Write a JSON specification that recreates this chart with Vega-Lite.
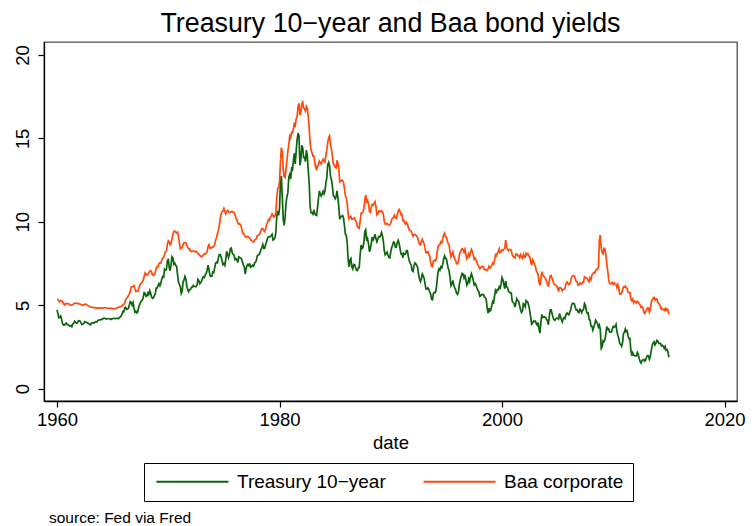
{
  "$schema": "https://vega.github.io/schema/vega-lite/v6.json",
  "background": "white",
  "padding": {"left": 12, "top": 10, "right": 6, "bottom": 2},
  "title": {
    "text": "source: Fed via Fred",
    "orient": "bottom",
    "anchor": "start",
    "frame": "group",
    "font": "Liberation Sans",
    "fontSize": 15.5,
    "fontWeight": "normal",
    "color": "black",
    "dx": 5,
    "offset": 9
  },
  "config": {
    "font": "Liberation Sans",
    "view": {"stroke": "#505050", "strokeWidth": 1.3},
    "axis": {
      "grid": false,
      "domainColor": "black",
      "domainWidth": 1.3,
      "tickColor": "black",
      "tickWidth": 1.2,
      "tickSize": 6,
      "labelColor": "black",
      "labelFont": "Liberation Sans",
      "labelFontSize": 18.5,
      "titleFont": "Liberation Sans",
      "titleFontSize": 18.5,
      "titleFontWeight": "normal",
      "titleColor": "black"
    }
  },
  "vconcat": [
    {
      "width": 693,
      "height": 359,
      "title": {
        "text": "Treasury 10−year and Baa bond yields",
        "anchor": "middle",
        "frame": "group",
        "font": "Liberation Sans",
        "fontSize": 26.8,
        "fontWeight": "normal",
        "color": "black",
        "offset": 4
      },
      "data": {
        "values": [
          {"d":"1960-01","t":4.72,"b":5.34},{"d":"1960-02","t":4.49,"b":5.34},{"d":"1960-03","t":4.25,"b":5.25},{"d":"1960-04","t":4.28,"b":5.20},{"d":"1960-05","t":4.35,"b":5.28},{"d":"1960-06","t":4.15,"b":5.26},{"d":"1960-07","t":3.90,"b":5.22},{"d":"1960-08","t":3.80,"b":5.08},{"d":"1960-09","t":3.80,"b":5.01},{"d":"1960-10","t":3.89,"b":5.11},{"d":"1960-11","t":3.93,"b":5.08},{"d":"1960-12","t":3.84,"b":5.10},
          {"d":"1961-01","t":3.84,"b":5.10},{"d":"1961-02","t":3.78,"b":5.07},{"d":"1961-03","t":3.74,"b":5.02},{"d":"1961-04","t":3.78,"b":5.01},{"d":"1961-05","t":3.71,"b":5.01},{"d":"1961-06","t":3.88,"b":5.03},{"d":"1961-07","t":3.92,"b":5.09},{"d":"1961-08","t":4.04,"b":5.11},{"d":"1961-09","t":3.98,"b":5.12},{"d":"1961-10","t":3.92,"b":5.13},{"d":"1961-11","t":3.94,"b":5.11},{"d":"1961-12","t":4.06,"b":5.10},
          {"d":"1962-01","t":4.08,"b":5.08},{"d":"1962-02","t":4.04,"b":5.07},{"d":"1962-03","t":3.93,"b":5.04},{"d":"1962-04","t":3.84,"b":5.02},{"d":"1962-05","t":3.87,"b":5.00},{"d":"1962-06","t":3.91,"b":5.02},{"d":"1962-07","t":4.01,"b":5.05},{"d":"1962-08","t":3.98,"b":5.06},{"d":"1962-09","t":3.98,"b":5.03},{"d":"1962-10","t":3.93,"b":4.99},{"d":"1962-11","t":3.92,"b":4.96},{"d":"1962-12","t":3.86,"b":4.92},
          {"d":"1963-01","t":3.83,"b":4.91},{"d":"1963-02","t":3.92,"b":4.89},{"d":"1963-03","t":3.93,"b":4.88},{"d":"1963-04","t":3.97,"b":4.87},{"d":"1963-05","t":3.93,"b":4.85},{"d":"1963-06","t":3.99,"b":4.84},{"d":"1963-07","t":4.02,"b":4.84},{"d":"1963-08","t":4.00,"b":4.83},{"d":"1963-09","t":4.08,"b":4.84},{"d":"1963-10","t":4.11,"b":4.83},{"d":"1963-11","t":4.12,"b":4.84},{"d":"1963-12","t":4.13,"b":4.85},
          {"d":"1964-01","t":4.17,"b":4.83},{"d":"1964-02","t":4.15,"b":4.83},{"d":"1964-03","t":4.22,"b":4.83},{"d":"1964-04","t":4.23,"b":4.85},{"d":"1964-05","t":4.20,"b":4.85},{"d":"1964-06","t":4.17,"b":4.85},{"d":"1964-07","t":4.19,"b":4.83},{"d":"1964-08","t":4.19,"b":4.82},{"d":"1964-09","t":4.20,"b":4.82},{"d":"1964-10","t":4.19,"b":4.81},{"d":"1964-11","t":4.15,"b":4.81},{"d":"1964-12","t":4.18,"b":4.81},
          {"d":"1965-01","t":4.19,"b":4.80},{"d":"1965-02","t":4.21,"b":4.78},{"d":"1965-03","t":4.21,"b":4.78},{"d":"1965-04","t":4.20,"b":4.80},{"d":"1965-05","t":4.21,"b":4.81},{"d":"1965-06","t":4.21,"b":4.85},{"d":"1965-07","t":4.20,"b":4.88},{"d":"1965-08","t":4.25,"b":4.88},{"d":"1965-09","t":4.29,"b":4.91},{"d":"1965-10","t":4.35,"b":4.93},{"d":"1965-11","t":4.45,"b":4.95},{"d":"1965-12","t":4.62,"b":5.02},
          {"d":"1966-01","t":4.61,"b":5.06},{"d":"1966-02","t":4.83,"b":5.12},{"d":"1966-03","t":4.87,"b":5.32},{"d":"1966-04","t":4.75,"b":5.41},{"d":"1966-05","t":4.78,"b":5.48},{"d":"1966-06","t":4.81,"b":5.58},{"d":"1966-07","t":5.02,"b":5.68},{"d":"1966-08","t":5.22,"b":5.83},{"d":"1966-09","t":5.18,"b":6.09},{"d":"1966-10","t":5.01,"b":6.10},{"d":"1966-11","t":5.16,"b":6.13},{"d":"1966-12","t":4.84,"b":6.18},
          {"d":"1967-01","t":4.58,"b":5.97},{"d":"1967-02","t":4.63,"b":5.82},{"d":"1967-03","t":4.54,"b":5.85},{"d":"1967-04","t":4.59,"b":5.83},{"d":"1967-05","t":4.85,"b":5.96},{"d":"1967-06","t":5.02,"b":6.15},{"d":"1967-07","t":5.16,"b":6.26},{"d":"1967-08","t":5.28,"b":6.33},{"d":"1967-09","t":5.30,"b":6.40},{"d":"1967-10","t":5.48,"b":6.52},{"d":"1967-11","t":5.75,"b":6.72},{"d":"1967-12","t":5.70,"b":6.93},
          {"d":"1968-01","t":5.53,"b":6.84},{"d":"1968-02","t":5.56,"b":6.80},{"d":"1968-03","t":5.74,"b":6.85},{"d":"1968-04","t":5.64,"b":6.97},{"d":"1968-05","t":5.87,"b":7.03},{"d":"1968-06","t":5.72,"b":7.07},{"d":"1968-07","t":5.50,"b":6.98},{"d":"1968-08","t":5.42,"b":6.82},{"d":"1968-09","t":5.46,"b":6.79},{"d":"1968-10","t":5.58,"b":6.84},{"d":"1968-11","t":5.70,"b":7.01},{"d":"1968-12","t":6.03,"b":7.23},
          {"d":"1969-01","t":6.04,"b":7.32},{"d":"1969-02","t":6.19,"b":7.30},{"d":"1969-03","t":6.30,"b":7.51},{"d":"1969-04","t":6.17,"b":7.54},{"d":"1969-05","t":6.32,"b":7.52},{"d":"1969-06","t":6.57,"b":7.70},{"d":"1969-07","t":6.72,"b":7.84},{"d":"1969-08","t":6.69,"b":7.86},{"d":"1969-09","t":7.16,"b":8.05},{"d":"1969-10","t":7.10,"b":8.22},{"d":"1969-11","t":7.14,"b":8.25},{"d":"1969-12","t":7.65,"b":8.65},
          {"d":"1970-01","t":7.79,"b":8.86},{"d":"1970-02","t":7.24,"b":8.78},{"d":"1970-03","t":7.07,"b":8.63},{"d":"1970-04","t":7.39,"b":8.70},{"d":"1970-05","t":7.91,"b":8.98},{"d":"1970-06","t":7.84,"b":9.25},{"d":"1970-07","t":7.46,"b":9.40},{"d":"1970-08","t":7.53,"b":9.44},{"d":"1970-09","t":7.39,"b":9.39},{"d":"1970-10","t":7.33,"b":9.33},{"d":"1970-11","t":6.84,"b":9.38},{"d":"1970-12","t":6.39,"b":9.12},
          {"d":"1971-01","t":6.24,"b":8.74},{"d":"1971-02","t":6.11,"b":8.39},{"d":"1971-03","t":5.70,"b":8.46},{"d":"1971-04","t":5.83,"b":8.45},{"d":"1971-05","t":6.39,"b":8.62},{"d":"1971-06","t":6.52,"b":8.75},{"d":"1971-07","t":6.73,"b":8.76},{"d":"1971-08","t":6.58,"b":8.76},{"d":"1971-09","t":6.14,"b":8.59},{"d":"1971-10","t":5.93,"b":8.48},{"d":"1971-11","t":5.81,"b":8.38},{"d":"1971-12","t":5.93,"b":8.38},
          {"d":"1972-01","t":5.95,"b":8.23},{"d":"1972-02","t":6.08,"b":8.23},{"d":"1972-03","t":6.07,"b":8.24},{"d":"1972-04","t":6.19,"b":8.24},{"d":"1972-05","t":6.13,"b":8.23},{"d":"1972-06","t":6.11,"b":8.20},{"d":"1972-07","t":6.11,"b":8.23},{"d":"1972-08","t":6.21,"b":8.19},{"d":"1972-09","t":6.55,"b":8.09},{"d":"1972-10","t":6.48,"b":8.06},{"d":"1972-11","t":6.28,"b":7.99},{"d":"1972-12","t":6.36,"b":7.93},
          {"d":"1973-01","t":6.46,"b":7.90},{"d":"1973-02","t":6.64,"b":7.97},{"d":"1973-03","t":6.71,"b":8.03},{"d":"1973-04","t":6.67,"b":8.09},{"d":"1973-05","t":6.85,"b":8.06},{"d":"1973-06","t":6.90,"b":8.13},{"d":"1973-07","t":7.13,"b":8.24},{"d":"1973-08","t":7.40,"b":8.53},{"d":"1973-09","t":7.09,"b":8.63},{"d":"1973-10","t":6.79,"b":8.41},{"d":"1973-11","t":6.73,"b":8.42},{"d":"1973-12","t":6.74,"b":8.48},
          {"d":"1974-01","t":6.99,"b":8.48},{"d":"1974-02","t":6.96,"b":8.53},{"d":"1974-03","t":7.21,"b":8.62},{"d":"1974-04","t":7.51,"b":8.87},{"d":"1974-05","t":7.58,"b":9.05},{"d":"1974-06","t":7.54,"b":9.27},{"d":"1974-07","t":7.81,"b":9.48},{"d":"1974-08","t":8.04,"b":9.77},{"d":"1974-09","t":8.04,"b":10.18},{"d":"1974-10","t":7.90,"b":10.48},{"d":"1974-11","t":7.68,"b":10.60},{"d":"1974-12","t":7.43,"b":10.63},
          {"d":"1975-01","t":7.50,"b":10.81},{"d":"1975-02","t":7.39,"b":10.65},{"d":"1975-03","t":7.73,"b":10.48},{"d":"1975-04","t":8.23,"b":10.58},{"d":"1975-05","t":8.06,"b":10.69},{"d":"1975-06","t":7.86,"b":10.62},{"d":"1975-07","t":8.06,"b":10.55},{"d":"1975-08","t":8.40,"b":10.59},{"d":"1975-09","t":8.43,"b":10.61},{"d":"1975-10","t":8.14,"b":10.62},{"d":"1975-11","t":8.05,"b":10.56},{"d":"1975-12","t":8.00,"b":10.56},
          {"d":"1976-01","t":7.74,"b":10.41},{"d":"1976-02","t":7.79,"b":10.24},{"d":"1976-03","t":7.73,"b":10.12},{"d":"1976-04","t":7.56,"b":9.94},{"d":"1976-05","t":7.90,"b":9.86},{"d":"1976-06","t":7.86,"b":9.89},{"d":"1976-07","t":7.83,"b":9.82},{"d":"1976-08","t":7.77,"b":9.64},{"d":"1976-09","t":7.59,"b":9.40},{"d":"1976-10","t":7.41,"b":9.29},{"d":"1976-11","t":7.29,"b":9.23},{"d":"1976-12","t":6.87,"b":9.12},
          {"d":"1977-01","t":7.21,"b":9.08},{"d":"1977-02","t":7.39,"b":9.12},{"d":"1977-03","t":7.46,"b":9.12},{"d":"1977-04","t":7.37,"b":9.07},{"d":"1977-05","t":7.46,"b":9.01},{"d":"1977-06","t":7.28,"b":8.91},{"d":"1977-07","t":7.33,"b":8.87},{"d":"1977-08","t":7.40,"b":8.82},{"d":"1977-09","t":7.34,"b":8.80},{"d":"1977-10","t":7.52,"b":8.89},{"d":"1977-11","t":7.58,"b":8.95},{"d":"1977-12","t":7.69,"b":8.99},
          {"d":"1978-01","t":7.96,"b":9.17},{"d":"1978-02","t":8.03,"b":9.20},{"d":"1978-03","t":8.04,"b":9.22},{"d":"1978-04","t":8.15,"b":9.32},{"d":"1978-05","t":8.35,"b":9.49},{"d":"1978-06","t":8.46,"b":9.60},{"d":"1978-07","t":8.64,"b":9.60},{"d":"1978-08","t":8.41,"b":9.48},{"d":"1978-09","t":8.42,"b":9.42},{"d":"1978-10","t":8.64,"b":9.59},{"d":"1978-11","t":8.81,"b":9.83},{"d":"1978-12","t":9.01,"b":9.94},
          {"d":"1979-01","t":9.10,"b":10.13},{"d":"1979-02","t":9.10,"b":10.08},{"d":"1979-03","t":9.12,"b":10.26},{"d":"1979-04","t":9.18,"b":10.33},{"d":"1979-05","t":9.25,"b":10.47},{"d":"1979-06","t":8.91,"b":10.38},{"d":"1979-07","t":8.95,"b":10.29},{"d":"1979-08","t":9.03,"b":10.35},{"d":"1979-09","t":9.33,"b":10.54},{"d":"1979-10","t":10.30,"b":11.40},{"d":"1979-11","t":10.65,"b":11.99},{"d":"1979-12","t":10.39,"b":12.06},
          {"d":"1980-01","t":10.80,"b":12.42},{"d":"1980-02","t":12.41,"b":13.57},{"d":"1980-03","t":12.75,"b":14.45},{"d":"1980-04","t":11.47,"b":14.19},{"d":"1980-05","t":10.18,"b":13.17},{"d":"1980-06","t":9.78,"b":12.71},{"d":"1980-07","t":10.25,"b":12.65},{"d":"1980-08","t":11.10,"b":13.15},{"d":"1980-09","t":11.51,"b":13.70},{"d":"1980-10","t":11.75,"b":14.23},{"d":"1980-11","t":12.68,"b":14.64},{"d":"1980-12","t":12.84,"b":15.14},
          {"d":"1981-01","t":12.57,"b":15.03},{"d":"1981-02","t":13.19,"b":15.37},{"d":"1981-03","t":13.12,"b":15.34},{"d":"1981-04","t":13.68,"b":15.56},{"d":"1981-05","t":14.10,"b":15.95},{"d":"1981-06","t":13.47,"b":15.80},{"d":"1981-07","t":14.28,"b":16.17},{"d":"1981-08","t":14.94,"b":16.34},{"d":"1981-09","t":15.32,"b":16.92},{"d":"1981-10","t":15.15,"b":17.11},{"d":"1981-11","t":13.39,"b":16.39},{"d":"1981-12","t":13.72,"b":16.55},
          {"d":"1982-01","t":14.59,"b":17.10},{"d":"1982-02","t":14.43,"b":17.18},{"d":"1982-03","t":13.86,"b":16.82},{"d":"1982-04","t":13.87,"b":16.78},{"d":"1982-05","t":13.62,"b":16.64},{"d":"1982-06","t":14.30,"b":16.92},{"d":"1982-07","t":13.95,"b":16.80},{"d":"1982-08","t":13.06,"b":16.32},{"d":"1982-09","t":12.34,"b":15.63},{"d":"1982-10","t":10.91,"b":14.73},{"d":"1982-11","t":10.55,"b":14.30},{"d":"1982-12","t":10.54,"b":14.14},
          {"d":"1983-01","t":10.46,"b":13.94},{"d":"1983-02","t":10.72,"b":13.95},{"d":"1983-03","t":10.51,"b":13.61},{"d":"1983-04","t":10.40,"b":13.29},{"d":"1983-05","t":10.38,"b":13.09},{"d":"1983-06","t":10.85,"b":13.37},{"d":"1983-07","t":11.38,"b":13.39},{"d":"1983-08","t":11.85,"b":13.64},{"d":"1983-09","t":11.65,"b":13.55},{"d":"1983-10","t":11.54,"b":13.46},{"d":"1983-11","t":11.69,"b":13.61},{"d":"1983-12","t":11.83,"b":13.75},
          {"d":"1984-01","t":11.67,"b":13.65},{"d":"1984-02","t":11.84,"b":13.59},{"d":"1984-03","t":12.32,"b":13.99},{"d":"1984-04","t":12.63,"b":14.31},{"d":"1984-05","t":13.41,"b":14.74},{"d":"1984-06","t":13.56,"b":15.05},{"d":"1984-07","t":13.36,"b":15.15},{"d":"1984-08","t":12.72,"b":14.63},{"d":"1984-09","t":12.52,"b":14.35},{"d":"1984-10","t":12.16,"b":13.94},{"d":"1984-11","t":11.57,"b":13.48},{"d":"1984-12","t":11.50,"b":13.40},
          {"d":"1985-01","t":11.38,"b":13.26},{"d":"1985-02","t":11.51,"b":13.23},{"d":"1985-03","t":11.86,"b":13.69},{"d":"1985-04","t":11.43,"b":13.51},{"d":"1985-05","t":10.85,"b":13.15},{"d":"1985-06","t":10.16,"b":12.40},{"d":"1985-07","t":10.31,"b":12.43},{"d":"1985-08","t":10.33,"b":12.50},{"d":"1985-09","t":10.37,"b":12.48},{"d":"1985-10","t":10.24,"b":12.36},{"d":"1985-11","t":9.78,"b":11.99},{"d":"1985-12","t":9.26,"b":11.58},
          {"d":"1986-01","t":9.19,"b":11.44},{"d":"1986-02","t":8.70,"b":11.11},{"d":"1986-03","t":7.78,"b":10.50},{"d":"1986-04","t":7.30,"b":10.19},{"d":"1986-05","t":7.71,"b":10.29},{"d":"1986-06","t":7.80,"b":10.34},{"d":"1986-07","t":7.30,"b":10.16},{"d":"1986-08","t":7.17,"b":10.18},{"d":"1986-09","t":7.45,"b":10.20},{"d":"1986-10","t":7.43,"b":10.24},{"d":"1986-11","t":7.25,"b":10.07},{"d":"1986-12","t":7.11,"b":9.97},
          {"d":"1987-01","t":7.08,"b":9.72},{"d":"1987-02","t":7.25,"b":9.65},{"d":"1987-03","t":7.25,"b":9.61},{"d":"1987-04","t":8.02,"b":10.04},{"d":"1987-05","t":8.61,"b":10.51},{"d":"1987-06","t":8.40,"b":10.52},{"d":"1987-07","t":8.45,"b":10.61},{"d":"1987-08","t":8.76,"b":10.80},{"d":"1987-09","t":9.42,"b":11.31},{"d":"1987-10","t":9.52,"b":11.62},{"d":"1987-11","t":8.86,"b":11.23},{"d":"1987-12","t":8.99,"b":11.29},
          {"d":"1988-01","t":8.67,"b":11.07},{"d":"1988-02","t":8.21,"b":10.62},{"d":"1988-03","t":8.37,"b":10.57},{"d":"1988-04","t":8.72,"b":10.90},{"d":"1988-05","t":9.09,"b":11.04},{"d":"1988-06","t":8.92,"b":11.00},{"d":"1988-07","t":9.06,"b":11.11},{"d":"1988-08","t":9.26,"b":11.21},{"d":"1988-09","t":8.98,"b":10.90},{"d":"1988-10","t":8.80,"b":10.41},{"d":"1988-11","t":8.96,"b":10.48},{"d":"1988-12","t":9.11,"b":10.65},
          {"d":"1989-01","t":9.09,"b":10.65},{"d":"1989-02","t":9.17,"b":10.61},{"d":"1989-03","t":9.36,"b":10.67},{"d":"1989-04","t":9.18,"b":10.61},{"d":"1989-05","t":8.86,"b":10.46},{"d":"1989-06","t":8.28,"b":10.03},{"d":"1989-07","t":8.02,"b":9.87},{"d":"1989-08","t":8.11,"b":9.88},{"d":"1989-09","t":8.19,"b":9.91},{"d":"1989-10","t":8.01,"b":9.81},{"d":"1989-11","t":7.87,"b":9.81},{"d":"1989-12","t":7.84,"b":9.82},
          {"d":"1990-01","t":8.21,"b":9.94},{"d":"1990-02","t":8.47,"b":10.14},{"d":"1990-03","t":8.59,"b":10.21},{"d":"1990-04","t":8.79,"b":10.30},{"d":"1990-05","t":8.76,"b":10.41},{"d":"1990-06","t":8.48,"b":10.22},{"d":"1990-07","t":8.47,"b":10.20},{"d":"1990-08","t":8.75,"b":10.41},{"d":"1990-09","t":8.89,"b":10.64},{"d":"1990-10","t":8.72,"b":10.74},{"d":"1990-11","t":8.39,"b":10.62},{"d":"1990-12","t":8.08,"b":10.43},
          {"d":"1991-01","t":8.09,"b":10.45},{"d":"1991-02","t":7.85,"b":10.07},{"d":"1991-03","t":8.11,"b":10.09},{"d":"1991-04","t":8.04,"b":9.94},{"d":"1991-05","t":8.07,"b":9.86},{"d":"1991-06","t":8.28,"b":9.96},{"d":"1991-07","t":8.27,"b":9.89},{"d":"1991-08","t":7.90,"b":9.65},{"d":"1991-09","t":7.65,"b":9.51},{"d":"1991-10","t":7.53,"b":9.49},{"d":"1991-11","t":7.42,"b":9.45},{"d":"1991-12","t":7.09,"b":9.26},
          {"d":"1992-01","t":7.03,"b":9.13},{"d":"1992-02","t":7.34,"b":9.23},{"d":"1992-03","t":7.54,"b":9.25},{"d":"1992-04","t":7.48,"b":9.21},{"d":"1992-05","t":7.39,"b":9.13},{"d":"1992-06","t":7.26,"b":9.05},{"d":"1992-07","t":6.84,"b":8.84},{"d":"1992-08","t":6.59,"b":8.65},{"d":"1992-09","t":6.42,"b":8.62},{"d":"1992-10","t":6.59,"b":8.84},{"d":"1992-11","t":6.87,"b":8.96},{"d":"1992-12","t":6.77,"b":8.81},
          {"d":"1993-01","t":6.60,"b":8.67},{"d":"1993-02","t":6.26,"b":8.39},{"d":"1993-03","t":5.98,"b":8.15},{"d":"1993-04","t":5.97,"b":8.14},{"d":"1993-05","t":6.04,"b":8.21},{"d":"1993-06","t":5.96,"b":8.07},{"d":"1993-07","t":5.81,"b":7.93},{"d":"1993-08","t":5.68,"b":7.60},{"d":"1993-09","t":5.36,"b":7.34},{"d":"1993-10","t":5.33,"b":7.31},{"d":"1993-11","t":5.72,"b":7.66},{"d":"1993-12","t":5.77,"b":7.69},
          {"d":"1994-01","t":5.75,"b":7.65},{"d":"1994-02","t":5.97,"b":7.76},{"d":"1994-03","t":6.48,"b":8.13},{"d":"1994-04","t":6.97,"b":8.52},{"d":"1994-05","t":7.18,"b":8.62},{"d":"1994-06","t":7.10,"b":8.65},{"d":"1994-07","t":7.30,"b":8.80},{"d":"1994-08","t":7.24,"b":8.74},{"d":"1994-09","t":7.46,"b":8.98},{"d":"1994-10","t":7.74,"b":9.20},{"d":"1994-11","t":7.96,"b":9.32},{"d":"1994-12","t":7.81,"b":9.10},
          {"d":"1995-01","t":7.78,"b":9.08},{"d":"1995-02","t":7.47,"b":8.85},{"d":"1995-03","t":7.20,"b":8.70},{"d":"1995-04","t":7.06,"b":8.60},{"d":"1995-05","t":6.63,"b":8.20},{"d":"1995-06","t":6.17,"b":7.90},{"d":"1995-07","t":6.28,"b":8.04},{"d":"1995-08","t":6.49,"b":8.19},{"d":"1995-09","t":6.20,"b":7.93},{"d":"1995-10","t":6.04,"b":7.75},{"d":"1995-11","t":5.93,"b":7.68},{"d":"1995-12","t":5.71,"b":7.49},
          {"d":"1996-01","t":5.65,"b":7.47},{"d":"1996-02","t":5.81,"b":7.63},{"d":"1996-03","t":6.27,"b":8.03},{"d":"1996-04","t":6.51,"b":8.19},{"d":"1996-05","t":6.74,"b":8.30},{"d":"1996-06","t":6.91,"b":8.40},{"d":"1996-07","t":6.87,"b":8.35},{"d":"1996-08","t":6.64,"b":8.18},{"d":"1996-09","t":6.83,"b":8.35},{"d":"1996-10","t":6.53,"b":8.07},{"d":"1996-11","t":6.20,"b":7.79},{"d":"1996-12","t":6.30,"b":7.89},
          {"d":"1997-01","t":6.58,"b":8.09},{"d":"1997-02","t":6.42,"b":7.94},{"d":"1997-03","t":6.69,"b":8.18},{"d":"1997-04","t":6.89,"b":8.34},{"d":"1997-05","t":6.71,"b":8.20},{"d":"1997-06","t":6.49,"b":8.02},{"d":"1997-07","t":6.22,"b":7.75},{"d":"1997-08","t":6.30,"b":7.82},{"d":"1997-09","t":6.21,"b":7.70},{"d":"1997-10","t":6.03,"b":7.57},{"d":"1997-11","t":5.88,"b":7.42},{"d":"1997-12","t":5.81,"b":7.32},
          {"d":"1998-01","t":5.54,"b":7.19},{"d":"1998-02","t":5.57,"b":7.25},{"d":"1998-03","t":5.65,"b":7.32},{"d":"1998-04","t":5.64,"b":7.33},{"d":"1998-05","t":5.65,"b":7.30},{"d":"1998-06","t":5.50,"b":7.13},{"d":"1998-07","t":5.46,"b":7.15},{"d":"1998-08","t":5.34,"b":7.14},{"d":"1998-09","t":4.81,"b":7.09},{"d":"1998-10","t":4.53,"b":7.18},{"d":"1998-11","t":4.83,"b":7.34},{"d":"1998-12","t":4.65,"b":7.23},
          {"d":"1999-01","t":4.72,"b":7.29},{"d":"1999-02","t":5.00,"b":7.39},{"d":"1999-03","t":5.23,"b":7.53},{"d":"1999-04","t":5.18,"b":7.48},{"d":"1999-05","t":5.54,"b":7.72},{"d":"1999-06","t":5.90,"b":8.02},{"d":"1999-07","t":5.79,"b":7.95},{"d":"1999-08","t":5.94,"b":8.15},{"d":"1999-09","t":5.92,"b":8.20},{"d":"1999-10","t":6.11,"b":8.38},{"d":"1999-11","t":6.03,"b":8.15},{"d":"1999-12","t":6.28,"b":8.19},
          {"d":"2000-01","t":6.66,"b":8.33},{"d":"2000-02","t":6.52,"b":8.29},{"d":"2000-03","t":6.26,"b":8.37},{"d":"2000-04","t":5.99,"b":8.40},{"d":"2000-05","t":6.44,"b":8.90},{"d":"2000-06","t":6.10,"b":8.48},{"d":"2000-07","t":6.05,"b":8.35},{"d":"2000-08","t":5.83,"b":8.26},{"d":"2000-09","t":5.80,"b":8.35},{"d":"2000-10","t":5.74,"b":8.34},{"d":"2000-11","t":5.72,"b":8.28},{"d":"2000-12","t":5.24,"b":8.02},
          {"d":"2001-01","t":5.16,"b":7.93},{"d":"2001-02","t":5.10,"b":7.87},{"d":"2001-03","t":4.89,"b":7.84},{"d":"2001-04","t":5.14,"b":8.07},{"d":"2001-05","t":5.39,"b":8.07},{"d":"2001-06","t":5.28,"b":7.97},{"d":"2001-07","t":5.24,"b":7.97},{"d":"2001-08","t":4.97,"b":7.85},{"d":"2001-09","t":4.73,"b":8.03},{"d":"2001-10","t":4.57,"b":7.91},{"d":"2001-11","t":4.65,"b":7.81},{"d":"2001-12","t":5.09,"b":8.05},
          {"d":"2002-01","t":5.04,"b":7.87},{"d":"2002-02","t":4.91,"b":7.89},{"d":"2002-03","t":5.28,"b":8.11},{"d":"2002-04","t":5.21,"b":8.03},{"d":"2002-05","t":5.16,"b":8.09},{"d":"2002-06","t":4.93,"b":7.95},{"d":"2002-07","t":4.65,"b":7.90},{"d":"2002-08","t":4.26,"b":7.58},{"d":"2002-09","t":3.87,"b":7.40},{"d":"2002-10","t":3.94,"b":7.73},{"d":"2002-11","t":4.05,"b":7.62},{"d":"2002-12","t":4.03,"b":7.45},
          {"d":"2003-01","t":4.05,"b":7.35},{"d":"2003-02","t":3.90,"b":7.06},{"d":"2003-03","t":3.81,"b":6.95},{"d":"2003-04","t":3.96,"b":6.85},{"d":"2003-05","t":3.57,"b":6.38},{"d":"2003-06","t":3.33,"b":6.19},{"d":"2003-07","t":3.98,"b":6.62},{"d":"2003-08","t":4.45,"b":7.01},{"d":"2003-09","t":4.27,"b":6.79},{"d":"2003-10","t":4.29,"b":6.73},{"d":"2003-11","t":4.30,"b":6.66},{"d":"2003-12","t":4.27,"b":6.60},
          {"d":"2004-01","t":4.15,"b":6.44},{"d":"2004-02","t":4.08,"b":6.27},{"d":"2004-03","t":3.83,"b":6.11},{"d":"2004-04","t":4.35,"b":6.46},{"d":"2004-05","t":4.72,"b":6.75},{"d":"2004-06","t":4.73,"b":6.78},{"d":"2004-07","t":4.50,"b":6.62},{"d":"2004-08","t":4.28,"b":6.46},{"d":"2004-09","t":4.13,"b":6.27},{"d":"2004-10","t":4.10,"b":6.21},{"d":"2004-11","t":4.19,"b":6.20},{"d":"2004-12","t":4.23,"b":6.15},
          {"d":"2005-01","t":4.22,"b":6.02},{"d":"2005-02","t":4.17,"b":5.82},{"d":"2005-03","t":4.50,"b":6.06},{"d":"2005-04","t":4.34,"b":6.05},{"d":"2005-05","t":4.14,"b":6.01},{"d":"2005-06","t":4.00,"b":5.86},{"d":"2005-07","t":4.18,"b":5.95},{"d":"2005-08","t":4.26,"b":5.96},{"d":"2005-09","t":4.20,"b":6.03},{"d":"2005-10","t":4.46,"b":6.30},{"d":"2005-11","t":4.54,"b":6.39},{"d":"2005-12","t":4.47,"b":6.32},
          {"d":"2006-01","t":4.42,"b":6.24},{"d":"2006-02","t":4.57,"b":6.27},{"d":"2006-03","t":4.72,"b":6.41},{"d":"2006-04","t":4.99,"b":6.68},{"d":"2006-05","t":5.11,"b":6.75},{"d":"2006-06","t":5.11,"b":6.78},{"d":"2006-07","t":5.09,"b":6.76},{"d":"2006-08","t":4.88,"b":6.59},{"d":"2006-09","t":4.72,"b":6.43},{"d":"2006-10","t":4.73,"b":6.42},{"d":"2006-11","t":4.60,"b":6.20},{"d":"2006-12","t":4.56,"b":6.22},
          {"d":"2007-01","t":4.76,"b":6.34},{"d":"2007-02","t":4.72,"b":6.28},{"d":"2007-03","t":4.56,"b":6.27},{"d":"2007-04","t":4.69,"b":6.39},{"d":"2007-05","t":4.75,"b":6.39},{"d":"2007-06","t":5.10,"b":6.70},{"d":"2007-07","t":5.00,"b":6.65},{"d":"2007-08","t":4.67,"b":6.65},{"d":"2007-09","t":4.52,"b":6.59},{"d":"2007-10","t":4.53,"b":6.48},{"d":"2007-11","t":4.15,"b":6.40},{"d":"2007-12","t":4.10,"b":6.65},
          {"d":"2008-01","t":3.74,"b":6.54},{"d":"2008-02","t":3.74,"b":6.82},{"d":"2008-03","t":3.51,"b":6.89},{"d":"2008-04","t":3.68,"b":6.97},{"d":"2008-05","t":3.88,"b":6.93},{"d":"2008-06","t":4.10,"b":7.07},{"d":"2008-07","t":4.01,"b":7.16},{"d":"2008-08","t":3.89,"b":7.15},{"d":"2008-09","t":3.69,"b":7.31},{"d":"2008-10","t":3.81,"b":8.88},{"d":"2008-11","t":3.53,"b":9.21},{"d":"2008-12","t":2.42,"b":8.43},
          {"d":"2009-01","t":2.52,"b":8.14},{"d":"2009-02","t":2.87,"b":8.08},{"d":"2009-03","t":2.82,"b":8.42},{"d":"2009-04","t":2.93,"b":8.39},{"d":"2009-05","t":3.29,"b":8.06},{"d":"2009-06","t":3.72,"b":7.50},{"d":"2009-07","t":3.56,"b":7.09},{"d":"2009-08","t":3.59,"b":6.58},{"d":"2009-09","t":3.40,"b":6.31},{"d":"2009-10","t":3.39,"b":6.29},{"d":"2009-11","t":3.40,"b":6.32},{"d":"2009-12","t":3.59,"b":6.37},
          {"d":"2010-01","t":3.73,"b":6.25},{"d":"2010-02","t":3.69,"b":6.34},{"d":"2010-03","t":3.73,"b":6.27},{"d":"2010-04","t":3.85,"b":6.25},{"d":"2010-05","t":3.42,"b":6.05},{"d":"2010-06","t":3.20,"b":6.23},{"d":"2010-07","t":3.01,"b":6.01},{"d":"2010-08","t":2.70,"b":5.66},{"d":"2010-09","t":2.65,"b":5.66},{"d":"2010-10","t":2.54,"b":5.72},{"d":"2010-11","t":2.76,"b":5.92},{"d":"2010-12","t":3.29,"b":6.10},
          {"d":"2011-01","t":3.39,"b":6.09},{"d":"2011-02","t":3.58,"b":6.15},{"d":"2011-03","t":3.41,"b":6.03},{"d":"2011-04","t":3.46,"b":6.02},{"d":"2011-05","t":3.17,"b":5.78},{"d":"2011-06","t":3.00,"b":5.75},{"d":"2011-07","t":3.00,"b":5.76},{"d":"2011-08","t":2.30,"b":5.36},{"d":"2011-09","t":1.98,"b":5.27},{"d":"2011-10","t":2.15,"b":5.37},{"d":"2011-11","t":2.01,"b":5.14},{"d":"2011-12","t":1.98,"b":5.25},
          {"d":"2012-01","t":1.97,"b":5.23},{"d":"2012-02","t":1.97,"b":5.14},{"d":"2012-03","t":2.17,"b":5.23},{"d":"2012-04","t":2.05,"b":5.19},{"d":"2012-05","t":1.80,"b":5.07},{"d":"2012-06","t":1.62,"b":5.02},{"d":"2012-07","t":1.53,"b":4.87},{"d":"2012-08","t":1.68,"b":4.91},{"d":"2012-09","t":1.72,"b":4.84},{"d":"2012-10","t":1.75,"b":4.58},{"d":"2012-11","t":1.65,"b":4.51},{"d":"2012-12","t":1.72,"b":4.63},
          {"d":"2013-01","t":1.91,"b":4.73},{"d":"2013-02","t":1.98,"b":4.85},{"d":"2013-03","t":1.96,"b":4.85},{"d":"2013-04","t":1.76,"b":4.59},{"d":"2013-05","t":1.93,"b":4.73},{"d":"2013-06","t":2.30,"b":5.19},{"d":"2013-07","t":2.58,"b":5.32},{"d":"2013-08","t":2.74,"b":5.42},{"d":"2013-09","t":2.81,"b":5.47},{"d":"2013-10","t":2.62,"b":5.31},{"d":"2013-11","t":2.72,"b":5.38},{"d":"2013-12","t":2.90,"b":5.38},
          {"d":"2014-01","t":2.86,"b":5.19},{"d":"2014-02","t":2.71,"b":5.10},{"d":"2014-03","t":2.72,"b":5.06},{"d":"2014-04","t":2.71,"b":4.90},{"d":"2014-05","t":2.56,"b":4.76},{"d":"2014-06","t":2.60,"b":4.80},{"d":"2014-07","t":2.54,"b":4.73},{"d":"2014-08","t":2.42,"b":4.69},{"d":"2014-09","t":2.53,"b":4.80},{"d":"2014-10","t":2.30,"b":4.69},{"d":"2014-11","t":2.33,"b":4.79},{"d":"2014-12","t":2.21,"b":4.74},
          {"d":"2015-01","t":1.88,"b":4.45}
        ]
      },
      "transform": [{"fold": ["t", "b"], "as": ["series", "yield"]}],
      "mark": {"type": "line", "strokeWidth": 1.7, "clip": true},
      "encoding": {
        "x": {
          "field": "d",
          "type": "temporal",
          "title": "date",
          "scale": {
            "domain": [
              {"year": 1958, "month": 10, "date": 30},
              {"year": 2021, "month": 2, "date": 14}
            ],
            "nice": false
          },
          "axis": {
            "values": [{"year": 1960}, {"year": 1980}, {"year": 2000}, {"year": 2020}],
            "format": "%Y",
            "labelPadding": 3,
            "titlePadding": 5,
            "labelFlush": false,
            "labelOverlap": false
          }
        },
        "y": {
          "field": "yield",
          "type": "quantitative",
          "title": null,
          "scale": {"domain": [-0.74, 20.78], "nice": false, "zero": false},
          "axis": {
            "values": [0, 5, 10, 15, 20],
            "labelAngle": 270,
            "labelAlign": "center",
            "labelBaseline": "bottom",
            "labelPadding": 6,
            "labelFlush": false,
            "labelOverlap": false
          }
        },
        "color": {
          "field": "series",
          "type": "nominal",
          "scale": {"domain": ["t", "b"], "range": ["#0c640c", "#ff4a0a"]},
          "legend": {
            "title": null,
            "orient": "none",
            "legendX": 100,
            "legendY": 421,
            "direction": "horizontal",
            "strokeColor": "black",
            "fillColor": "white",
            "padding": 9,
            "symbolType": "M-1,0H11",
            "symbolSize": 144,
            "symbolStrokeWidth": 2,
            "labelOffset": 65,
            "labelFontSize": 19,
            "labelColor": "black",
            "labelFont": "Liberation Sans",
            "columnPadding": 33,
            "labelExpr": "datum.value == 't' ? 'Treasury 10−year' : 'Baa corporate'"
          }
        }
      }
    }
  ]
}
